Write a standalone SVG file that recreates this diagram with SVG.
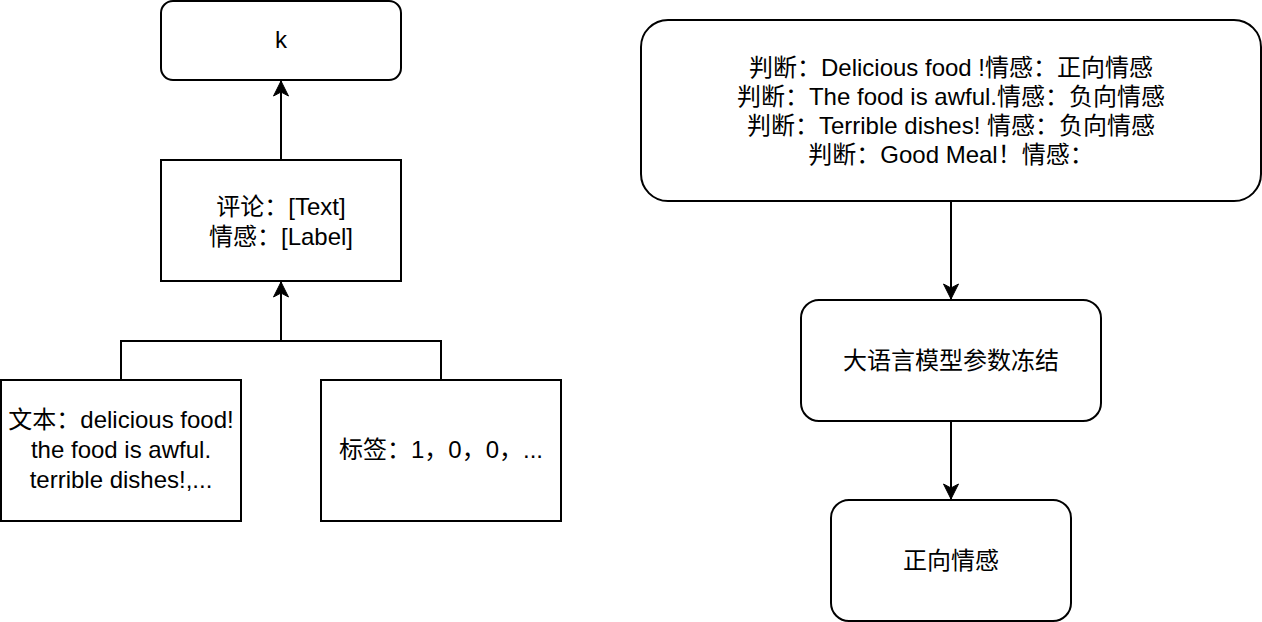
<svg xmlns="http://www.w3.org/2000/svg" width="1262" height="622" viewBox="0 0 1262 622">
<style>
.box{fill:#fff;stroke:#000;stroke-width:2}
.t{font-family:"Liberation Sans","Noto Sans CJK SC",sans-serif;font-size:24px;fill:#000;text-anchor:middle}
.c{fill:none;stroke:#000;stroke-width:2}
</style>
<defs>
<marker id="arr" markerUnits="userSpaceOnUse" markerWidth="18" markerHeight="18" viewBox="0 0 18 18" refX="16" refY="9" orient="auto">
<path d="M1,1.5 L16,9 L1,16.5 L5,9 Z" fill="#000" stroke="#000" stroke-width="1"/>
</marker>
</defs>
<rect width="1262" height="622" fill="#fff"/>
<g id="connectors">
<path class="c" d="M281,160 L281,81" marker-end="url(#arr)"/>
<path class="c" d="M121,380 L121,341 L441,341 L441,380"/>
<path class="c" d="M281,341 L281,282" marker-end="url(#arr)"/>
<path class="c" d="M951,201 L951,299" marker-end="url(#arr)"/>
<path class="c" d="M951,421 L951,499" marker-end="url(#arr)"/>
</g>
<g id="node-k">
<rect class="box" x="161" y="1" width="240" height="79" rx="12"/>
<text class="t" x="281" y="48">k</text>
</g>
<g id="node-template">
<rect class="box" x="161" y="160" width="240" height="121"/>
<text class="t" x="281" y="215">评论：[Text]</text>
<text class="t" x="281" y="245">情感：[Label]</text>
</g>
<g id="node-text">
<rect class="box" x="1" y="380" width="240" height="141"/>
<text class="t" x="121" y="428">文本：delicious food!</text>
<text class="t" x="121" y="458">the food is awful.</text>
<text class="t" x="121" y="488">terrible dishes!,...</text>
</g>
<g id="node-label">
<rect class="box" x="321" y="380" width="240" height="141"/>
<text class="t" x="441" y="458">标签：1，0，0，...</text>
</g>
<g id="node-prompt">
<rect class="box" x="641" y="20" width="620" height="181" rx="27"/>
<text class="t" x="951" y="76">判断：Delicious food !情感：正向情感</text>
<text class="t" x="951" y="105">判断：The food is awful.情感：负向情感</text>
<text class="t" x="951" y="134">判断：Terrible dishes! 情感：负向情感</text>
<text class="t" x="951" y="163">判断：Good Meal！情感：</text>
</g>
<g id="node-llm">
<rect class="box" x="801" y="300" width="300" height="121" rx="18"/>
<text class="t" x="951" y="368.5">大语言模型参数冻结</text>
</g>
<g id="node-output">
<rect class="box" x="831" y="500" width="240" height="121" rx="18"/>
<text class="t" x="951" y="568.5">正向情感</text>
</g>
</svg>
